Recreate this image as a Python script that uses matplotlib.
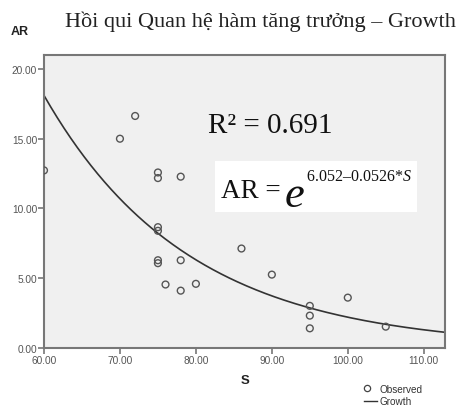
import numpy as np
import matplotlib
matplotlib.use("Agg")
import matplotlib.pyplot as plt
from matplotlib.patches import Rectangle
from matplotlib.lines import Line2D

plt.rcParams["mathtext.fontset"] = "custom"
plt.rcParams["mathtext.rm"] = "Liberation Serif"
plt.rcParams["mathtext.it"] = "Liberation Serif:italic"

# Observed data (S, AR)
s_obs = [60, 70, 72, 75, 75, 78, 75, 75, 75, 75, 78, 76, 78, 80,
         86, 90, 95, 95, 95, 100, 105]
ar_obs = [12.73, 15.0, 16.63, 12.58, 12.18, 12.28, 8.66, 8.40, 6.29, 6.08,
          6.29, 4.55, 4.11, 4.60, 7.13, 5.26, 3.02, 2.32, 1.41, 3.61, 1.53]

# Fitted growth model: AR = exp(b0 + b1 * S)
b0 = 6.052
b1 = -0.0526
r_squared = 0.691

x_ticks = [60, 70, 80, 90, 100, 110]
y_ticks = [0, 5, 10, 15, 20]

W, H = 466, 406
fig = plt.figure(figsize=(W / 100, H / 100), dpi=100)
fig.patch.set_facecolor("white")


def fx(x):
    return x / W


def fy(y):
    return 1 - y / H


left, right, top, bottom = 44, 445, 56, 349
ax = fig.add_axes([fx(left), fy(bottom), (right - left) / W, (bottom - top) / H])
ax.set_facecolor("#f0f0f0")

xmin, xmax = 60, 112.8
ymin, ymax = 0, 21.0
ax.set_xlim(xmin, xmax)
ax.set_ylim(ymin, ymax)

s_fit = np.linspace(xmin, xmax, 300)
ax.plot(s_fit, np.exp(b0 + b1 * s_fit), color="#333333", lw=1.2, zorder=2)
ax.scatter(s_obs, ar_obs, s=24, facecolors="none", edgecolors="#555555",
           linewidths=1.0, zorder=3, clip_on=True)

ax.set_xticks(x_ticks)
ax.set_xticklabels([f"{v:.2f}" for v in x_ticks])
ax.set_yticks(y_ticks)
ax.set_yticklabels([f"{v:.2f}" for v in y_ticks])
ax.tick_params(axis="both", direction="out", length=4, width=1.2,
               color="#777777", labelsize=7.3, labelcolor="#555555", pad=1.0)
for lab in ax.get_xticklabels() + ax.get_yticklabels():
    lab.set_fontfamily("Liberation Sans")
for side, sp in ax.spines.items():
    sp.set_color("#777777")
    sp.set_linewidth(1.5)

# Axis captions
fig.text(fx(20), fy(32), "AR", fontsize=9, fontweight="bold",
         family="Liberation Sans", color="#222222", ha="center", va="center")
fig.text(fx(245), fy(381), "S", fontsize=9.5, fontweight="bold",
         family="Liberation Sans", color="#222222", ha="center", va="center")

# Title
fig.text(fx(260.5), fy(27), "Hồi qui Quan hệ hàm tăng trưởng – Growth",
         fontsize=16, family="Liberation Serif", color="#222222",
         ha="center", va="baseline")

# R-squared annotation
fig.text(fx(208), fy(133), f"R² = {r_squared:.3f}",
         fontsize=21, family="Liberation Serif", color="#111111",
         ha="left", va="baseline")

# Equation box
fig.add_artist(Rectangle((fx(215), fy(213)), (417 - 215) / W, (213 - 162) / H,
                         transform=fig.transFigure, facecolor="white",
                         edgecolor="none", zorder=1))
fig.text(fx(221), fy(198), "AR = ", fontsize=19.5, family="Liberation Serif",
         color="#111111", ha="left", va="baseline", zorder=2)
fig.text(fx(285), fy(207), "e", fontsize=32, family="Liberation Serif",
         style="italic", color="#111111", ha="left", va="baseline", zorder=2)
fig.text(fx(306), fy(181), f"{b0:.3f}\u2013{-b1:.4f}*" + r"$\mathit{S}$",
         fontsize=11.5, family="Liberation Serif", color="#111111",
         ha="left", va="baseline", zorder=2)

# Legend
fig.add_artist(Line2D([fx(367)], [fy(389)], marker="o", markersize=4.5,
                      markerfacecolor="none", markeredgecolor="#444444",
                      markeredgewidth=0.9, linestyle="none",
                      transform=fig.transFigure))
fig.add_artist(Line2D([fx(364), fx(377)], [fy(402), fy(402)], color="#333333",
                      lw=1.0, transform=fig.transFigure))
fig.text(fx(379), fy(390), "Observed", fontsize=7.2, family="Liberation Sans",
         color="#333333", ha="left", va="center")
fig.text(fx(379), fy(402), "Growth", fontsize=7.2, family="Liberation Sans",
         color="#333333", ha="left", va="center")

fig.savefig("out.png", dpi=100)
